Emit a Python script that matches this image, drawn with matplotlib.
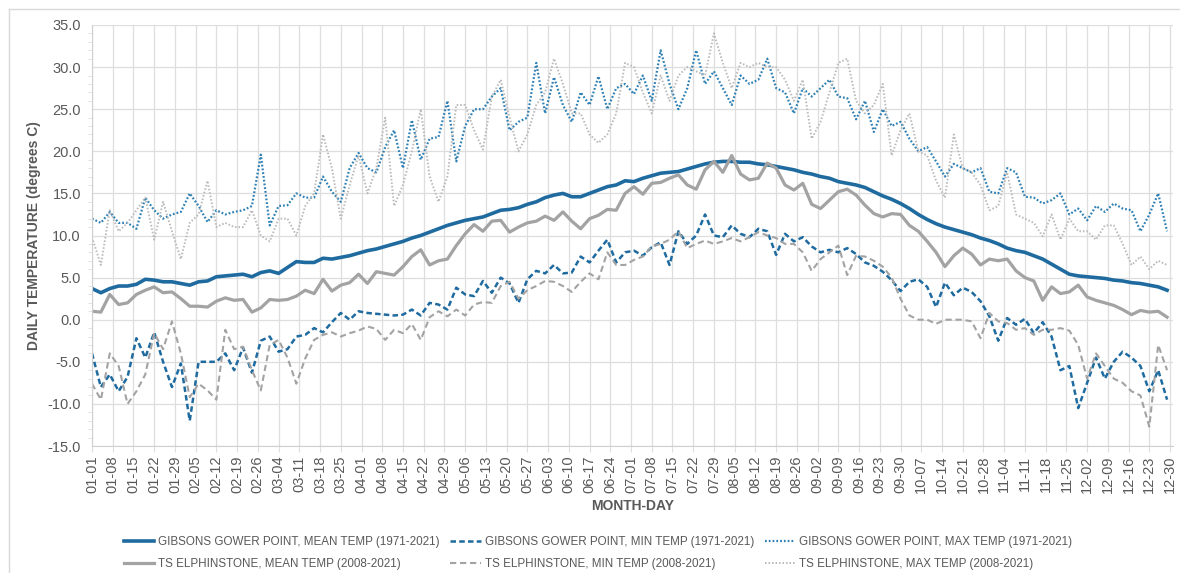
import numpy as np
import pandas as pd
import matplotlib
matplotlib.use('Agg')
import matplotlib.pyplot as plt
from matplotlib import font_manager
from matplotlib.lines import Line2D
from matplotlib.ticker import MultipleLocator, FuncFormatter

# ---------------- data ----------------
MONTH_DAY = pd.date_range('2020-01-01', '2020-12-31').strftime('%m-%d').tolist()  # 366 categories
SAMPLE_STEP = 3
sample_idx = np.arange(0, len(MONTH_DAY), SAMPLE_STEP)   # days 0,3,...,363
TICK_IDX = np.arange(0, len(MONTH_DAY), 7)
TICK_LABELS = [MONTH_DAY[i] for i in TICK_IDX]

gibsons_mean = [
    3.7, 3.2, 3.7, 4.0, 4.0, 4.2, 4.8, 4.7, 4.5, 4.5, 4.3, 4.1, 4.5, 4.6, 5.1, 5.2,
    5.3, 5.4, 5.1, 5.6, 5.8, 5.5, 6.2, 6.9, 6.8, 6.8, 7.3, 7.2, 7.4, 7.6, 7.9,
    8.2, 8.4, 8.7, 9.0, 9.3, 9.7, 10.0, 10.4, 10.8, 11.2, 11.5, 11.8, 12.0, 12.2, 12.6,
    13.0, 13.1, 13.3, 13.7, 14.0, 14.5, 14.8, 15.0, 14.6, 14.6, 15.0, 15.4, 15.8, 16.0, 16.5,
    16.4, 16.8, 17.1, 17.4, 17.5, 17.6, 17.9, 18.2, 18.5, 18.7, 18.8, 18.8, 18.7, 18.7, 18.5,
    18.4, 18.2, 18.0, 17.8, 17.5, 17.3, 17.0, 16.8, 16.4, 16.2, 16.0, 15.7, 15.2, 14.7, 14.3,
    13.8, 13.2, 12.5, 11.9, 11.4, 11.0, 10.7, 10.4, 10.1, 9.7, 9.4, 9.0, 8.5, 8.2, 8.0, 7.6,
    7.2, 6.6, 6.0, 5.4, 5.2, 5.1, 5.0, 4.9, 4.7, 4.6, 4.4, 4.3, 4.1, 3.9, 3.5,
]
gibsons_min = [
    -4.0, -8.0, -6.5, -8.5, -6.8, -2.2, -4.5, -1.5, -5.0, -8.0, -5.2, -12.0, -5.0, -5.0, -5.0, -4.0,
    -6.0, -3.3, -6.3, -2.5, -2.0, -3.8, -3.5, -2.0, -1.8, -1.0, -1.5, -0.3, 0.8, 0.0, 1.0,
    0.8, 0.7, 0.6, 0.5, 0.6, 1.2, 0.5, 2.0, 1.8, 1.2, 3.8, 3.0, 2.8, 4.6, 3.2,
    5.0, 4.3, 2.0, 4.8, 5.8, 5.5, 6.5, 5.5, 5.6, 7.5, 6.8, 8.2, 9.5, 6.8, 8.0,
    8.2, 7.6, 8.6, 9.2, 6.5, 10.5, 9.0, 10.0, 12.5, 10.0, 9.8, 11.2, 10.2, 9.8, 10.8,
    10.5, 7.7, 10.2, 9.3, 9.8, 8.7, 8.0, 8.3, 8.0, 8.5, 7.8, 6.8, 6.4, 5.7, 4.7,
    3.4, 4.5, 4.8, 3.9, 1.5, 4.4, 2.9, 3.8, 3.3, 2.2, 0.4, -2.5, 0.2, -0.6, 0.1, -1.6,
    -0.3, -2.0, -6.0, -5.5, -10.5, -7.5, -4.5, -7.0, -5.0, -3.8, -4.5, -5.5, -8.5, -6.0, -9.5,
]
gibsons_max = [
    12.0, 11.5, 12.8, 11.5, 11.5, 10.8, 14.5, 13.0, 12.0, 12.5, 12.8, 15.0, 13.5, 11.6, 13.0, 12.5,
    12.8, 13.0, 13.5, 19.6, 11.2, 13.5, 13.6, 15.0, 14.5, 14.5, 17.0, 15.2, 14.0, 18.0, 19.8,
    18.0, 17.5, 20.5, 22.5, 18.0, 23.7, 19.0, 21.5, 21.7, 26.0, 18.8, 23.0, 25.0, 25.0, 26.5, 27.5,
    22.5, 23.5, 24.0, 30.5, 24.5, 28.8, 25.5, 23.5, 27.0, 25.5, 28.9, 25.0, 27.5, 28.0, 26.8,
    29.0, 26.0, 32.0, 28.0, 25.0, 27.5, 32.0, 28.0, 29.5, 27.5, 25.5, 29.0, 28.0, 28.5, 31.0,
    27.5, 27.0, 24.5, 27.5, 26.5, 27.5, 28.5, 26.5, 26.3, 23.8, 26.0, 22.3, 25.0, 23.0, 23.5,
    21.5, 20.0, 20.5, 18.8, 17.0, 18.5, 18.0, 17.5, 18.0, 15.2, 15.0, 18.0, 17.5, 14.6, 14.5,
    13.8, 14.2, 15.0, 12.5, 13.2, 11.8, 13.5, 12.8, 13.8, 13.2, 13.0, 10.5, 12.5, 15.0, 10.5,
]
ts_mean = [
    1.0, 0.9, 3.0, 1.8, 2.0, 3.0, 3.5, 3.9, 3.2, 3.3, 2.5, 1.6, 1.6, 1.5, 2.2, 2.6,
    2.3, 2.4, 0.9, 1.4, 2.4, 2.3, 2.4, 2.8, 3.5, 3.1, 4.8, 3.4, 4.1, 4.4, 5.4,
    4.3, 5.7, 5.5, 5.3, 6.3, 7.5, 8.3, 6.5, 7.0, 7.2, 8.8, 10.2, 11.3, 10.5, 11.7,
    11.8, 10.4, 11.0, 11.5, 11.7, 12.3, 11.8, 12.8, 11.7, 10.8, 12.0, 12.4, 13.1, 13.0, 15.0,
    15.8, 14.9, 16.2, 16.3, 16.8, 17.2, 16.0, 15.5, 17.8, 18.8, 17.5, 19.5, 17.3, 16.6, 16.8,
    18.6, 18.0, 16.0, 15.4, 16.2, 13.7, 13.2, 14.2, 15.2, 15.5, 14.8, 13.6, 12.6, 12.2, 12.6,
    12.5, 11.2, 10.5, 9.3, 8.0, 6.3, 7.6, 8.5, 7.8, 6.5, 7.2, 7.0, 7.2, 5.8, 5.0, 4.6,
    2.3, 3.9, 3.1, 3.3, 4.1, 2.7, 2.3, 2.0, 1.7, 1.2, 0.6, 1.1, 0.9, 1.0, 0.3,
]
ts_min = [
    -7.6, -9.5, -4.0, -5.5, -10.0, -8.5, -6.5, -1.6, -3.5, -0.2, -4.0, -9.2, -7.6, -8.4, -9.5, -1.2,
    -3.5, -3.2, -6.0, -8.4, -3.0, -2.4, -4.5, -7.6, -4.6, -2.4, -1.8, -1.5, -2.0, -1.6, -1.3,
    -0.8, -1.1, -2.4, -1.2, -1.6, -0.5, -2.4, 0.3, 1.0, 0.4, 1.2, 0.5, 1.8, 2.1, 2.0,
    4.0, 4.5, 2.5, 3.5, 4.0, 4.6, 4.5, 4.0, 3.3, 4.5, 5.5, 4.8, 8.0, 6.5, 6.5,
    7.1, 7.5, 8.7, 9.0, 9.5, 10.5, 8.5, 9.0, 9.4, 9.0, 9.3, 9.7, 9.3, 9.8, 10.4,
    10.0, 9.7, 9.0, 9.0, 8.0, 5.8, 7.2, 8.0, 8.8, 5.3, 7.6, 7.5, 7.0, 6.3, 5.0,
    2.5, 0.5, 0.0, 0.0, -0.5, 0.0, 0.0, 0.0, -0.2, -2.2, 0.8, -0.2, -0.4, -1.2, -1.0, -1.8,
    -1.2, -1.2, -1.0, -1.3, -3.0, -7.0, -4.0, -5.5, -7.0, -7.5, -8.5, -9.0, -12.7, -3.0, -6.0,
]
ts_max = [
    9.8, 6.5, 13.0, 10.5, 11.5, 13.0, 14.5, 9.5, 14.0, 10.5, 7.2, 11.5, 12.5, 16.5, 11.0, 11.5,
    11.0, 11.0, 13.0, 10.0, 9.3, 12.0, 12.0, 10.0, 13.5, 15.0, 22.0, 18.0, 12.0, 16.0, 19.5,
    15.0, 18.0, 24.0, 13.5, 16.0, 20.0, 25.0, 17.0, 14.0, 17.0, 25.5, 25.5, 22.5, 20.2, 26.5,
    28.5, 24.0, 20.0, 22.0, 25.5, 27.0, 31.0, 28.0, 24.5, 24.5, 22.0, 21.0, 22.0, 24.5, 30.5,
    30.0, 27.0, 24.5, 29.0, 26.0, 29.0, 30.0, 29.5, 29.0, 34.0, 30.5, 27.5, 30.5, 30.0, 30.5,
    30.0, 30.0, 28.5, 26.0, 28.5, 21.5, 23.5, 27.0, 30.5, 31.0, 26.0, 24.5, 25.5, 28.0, 19.5,
    22.5, 24.5, 20.0, 19.5, 16.5, 14.5, 22.0, 18.0, 17.5, 16.0, 13.0, 13.5, 17.5, 12.5, 12.0, 11.5,
    9.9, 12.5, 9.5, 12.0, 10.5, 10.5, 9.5, 11.2, 11.2, 9.0, 6.5, 7.5, 6.0, 7.0, 6.5,
]

SERIES_LABELS = [
    'GIBSONS GOWER POINT, MEAN TEMP (1971-2021)',
    'GIBSONS GOWER POINT, MIN TEMP (1971-2021)',
    'GIBSONS GOWER POINT, MAX TEMP (1971-2021)',
    'TS ELPHINSTONE, MEAN TEMP (2008-2021)',
    'TS ELPHINSTONE, MIN TEMP (2008-2021)',
    'TS ELPHINSTONE, MAX TEMP (2008-2021)',
]

# ---------------- style ----------------
plt.rcParams['font.family'] = ['Liberation Sans', 'DejaVu Sans']
available = {f.name for f in font_manager.fontManager.ttflist}
NARROW = 'Liberation Sans Narrow' in available
legend_font = {'family': 'Liberation Sans Narrow', 'size': 10} if NARROW else {'family': 'Liberation Sans', 'size': 8.4}

BLUE = '#1f6b9f'
BLUE_LIGHT = '#2e80b4'
GRAY = '#a3a3a3'
GRAY_LIGHT = '#bababa'
TXT = '#595959'
GRID = '#dedede'

W, H = 1180, 573
fig = plt.figure(figsize=(W / 100, H / 100), dpi=100)
fig.patch.set_facecolor('white')
ax = fig.add_axes([92 / W, 1 - 446 / H, (1173 - 92) / W, (446 - 25) / H])

styles = [
    dict(color=BLUE, lw=2.6, ls='-'),
    dict(color=BLUE, lw=1.8, dashes=(2.2, 1.3)),
    dict(color=BLUE_LIGHT, lw=1.6, dashes=(0.8, 0.9)),
    dict(color=GRAY, lw=2.3, ls='-'),
    dict(color=GRAY, lw=1.5, dashes=(3.0, 1.8)),
    dict(color=GRAY_LIGHT, lw=1.4, dashes=(0.8, 1.0)),
]
series = [gibsons_mean, gibsons_min, gibsons_max, ts_mean, ts_min, ts_max]
handles = []
for vals, st, lab in zip(series, styles, SERIES_LABELS):
    h, = ax.plot(sample_idx, vals, label=lab, solid_joinstyle='round', **st)
    handles.append(h)

ax.set_xlim(0, len(MONTH_DAY) - 1)
ax.set_ylim(-15, 35)
ax.set_xticks(TICK_IDX)
ax.set_xticklabels(TICK_LABELS, rotation=90, fontsize=10.5, color=TXT)
ax.yaxis.set_major_locator(MultipleLocator(5))
ax.yaxis.set_minor_locator(MultipleLocator(1))
ax.yaxis.set_major_formatter(FuncFormatter(lambda v, p: f'{v:.1f}'))
ax.tick_params(axis='y', labelsize=10.5, colors=TXT, length=0, pad=8)
ax.tick_params(axis='y', which='minor', length=3, color=GRID)
ax.tick_params(axis='x', length=4, color=GRID, pad=3)
ax.grid(True, which='major', color=GRID, lw=0.9)
ax.set_axisbelow(True)
for s in ['top', 'right']:
    ax.spines[s].set_visible(False)
for s in ['left', 'bottom']:
    ax.spines[s].set_color('#d0d0d0')

ax.set_ylabel('DAILY TEMPERATURE (degrees C)', fontsize=10, fontweight='bold', color=TXT)
ax.yaxis.set_label_coords(-0.047, 0.5)
ax.set_xlabel('MONTH-DAY', fontsize=10, fontweight='bold', color=TXT)
ax.xaxis.set_label_coords(0.5, -0.125)

order = [0, 3, 1, 4, 2, 5]
leg = fig.legend([handles[i] for i in order], [SERIES_LABELS[i] for i in order],
                 ncol=3, loc='center', bbox_to_anchor=(598 / W, 1 - 553 / H),
                 frameon=False, prop=legend_font, handlelength=2.6, columnspacing=0.9,
                 handletextpad=0.35, labelspacing=0.8)
for t in leg.get_texts():
    t.set_color(TXT)

# outer chart frame (left and top edges visible)
fig.add_artist(Line2D([8.5 / W, 8.5 / W], [0, 1 - 8.5 / H], transform=fig.transFigure, color='#d9d9d9', lw=1))
fig.add_artist(Line2D([8.5 / W, 1], [1 - 8.5 / H, 1 - 8.5 / H], transform=fig.transFigure, color='#d9d9d9', lw=1))

fig.savefig('out.png', dpi=100, facecolor='white')
